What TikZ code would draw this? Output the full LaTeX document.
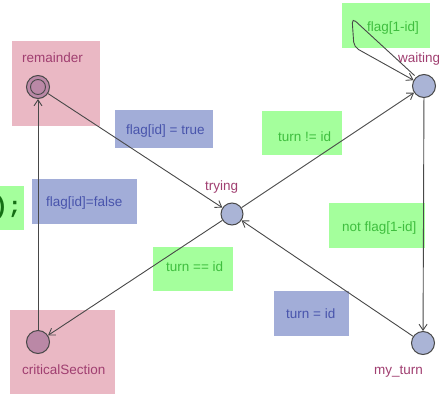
\documentclass[tikz,border=0pt]{standalone}
\usepackage{fontspec}
\setmainfont{Liberation Sans}
\newfontfamily\codefont{Liberation Mono}
\usetikzlibrary{arrows.meta}
\definecolor{pinkbox}{RGB}{234,184,196}
\definecolor{bluebox}{RGB}{162,173,216}
\definecolor{greenbox}{RGB}{164,255,156}
\definecolor{bluetext}{RGB}{72,84,172}
\definecolor{greentext}{RGB}{62,190,62}
\definecolor{codegreen}{RGB}{20,110,20}
\definecolor{loctext}{RGB}{160,62,112}
\definecolor{locfill}{RGB}{170,180,214}
\definecolor{initfill}{RGB}{186,136,166}
\definecolor{edgecol}{RGB}{72,72,72}
\tikzset{
  loc/.style={circle, draw=edgecol, line width=1pt, minimum size=23pt, inner sep=0pt, fill=locfill},
  initloc/.style={loc, fill=initfill},
  innerring/.style={circle, draw=edgecol, line width=0.9pt, minimum size=15pt, inner sep=0pt, fill=initfill},
  locname/.style={anchor=base west, inner sep=0pt, text=loctext, font=\fontsize{13.5}{15}\selectfont},
  bluelbl/.style={anchor=base west, inner sep=0pt, text=bluetext, font=\fontsize{13.5}{15}\selectfont},
  greenlbl/.style={anchor=base west, inner sep=0pt, text=greentext, font=\fontsize{13.5}{15}\selectfont},
  trans/.style={draw=edgecol, line width=0.9pt, -{Straight Barb[length=6pt,width=8pt]}},
}
\begin{document}
\begin{tikzpicture}[x=1pt, y=-1pt]
\useasboundingbox (0,0) rectangle (439,394);
\begin{scope}
\clip (0,0) rectangle (439,394);
% coloured backgrounds of names, guards and updates
\fill[pinkbox] (12,41) rectangle (100,126);
\fill[pinkbox] (10,310) rectangle (115,394);
\fill[bluebox] (115,110) rectangle (213,148);
\fill[bluebox] (32,179) rectangle (137,224);
\fill[bluebox] (274,291) rectangle (349,336);
\fill[greenbox] (0,186) rectangle (24,230);
\fill[greenbox] (153,247) rectangle (233,291);
\fill[greenbox] (262,111) rectangle (342,155);
\fill[greenbox] (342,3) rectangle (430,48);
\fill[greenbox] (329,203) rectangle (425,248);
\node[anchor=base east, inner sep=0pt, text=codegreen, font=\codefont\bfseries\fontsize{23}{25}\selectfont] (code) at (22,213) {);};

% locations
\node[initloc] (remainder) at (38,87) {};
\node[innerring] (remainderin) at (remainder.center) {};
\node[loc, fill=initfill] (critical) at (38,342) {};
\node[loc, minimum size=22pt] (trying) at (232,214) {};
\node[loc] (waiting) at (424,86) {};
\node[loc] (myturn) at (423,343) {};

% location names
\node[locname] (nrem) at (22,62) {remainder};
\node[locname] (ncrit) at (22,374) {criticalSection};
\node[locname] (ntry) at (205,190) {trying};
\node[locname] (nwait) at (398,62) {waiting};
\node[locname] (nmy) at (374,374) {my\_turn};

% guards and updates
\node[bluelbl] (u1) at (126,134) {flag[id] = true};
\node[bluelbl] (u2) at (46,206) {flag[id]=false};
\node[bluelbl] (u3) at (286,318) {turn = id};
\node[greenlbl] (g1) at (278,141) {turn != id};
\node[greenlbl] (g2) at (367,31) {flag[1-id]};
\node[greenlbl] (g3) at (166,271) {turn == id};
\node[greenlbl] (g4) at (342,231) {not flag[1-id]};

% transitions
\draw[trans] (remainder) -- (trying);
\draw[trans] (trying) -- (waiting);
\draw[trans] (trying) -- (critical);
\draw[trans] (waiting) -- (myturn);
\draw[trans] (myturn) -- (trying);
\draw[trans] (critical) -- (remainder);
\coordinate (nailA) at (352,18);
\coordinate (nailB) at (354,47);
\draw[trans, rounded corners=5pt] (waiting.north west) ++(-1,-2) -- (nailA) -- (nailB) -- (waiting);
\end{scope}
\end{tikzpicture}
\end{document}
